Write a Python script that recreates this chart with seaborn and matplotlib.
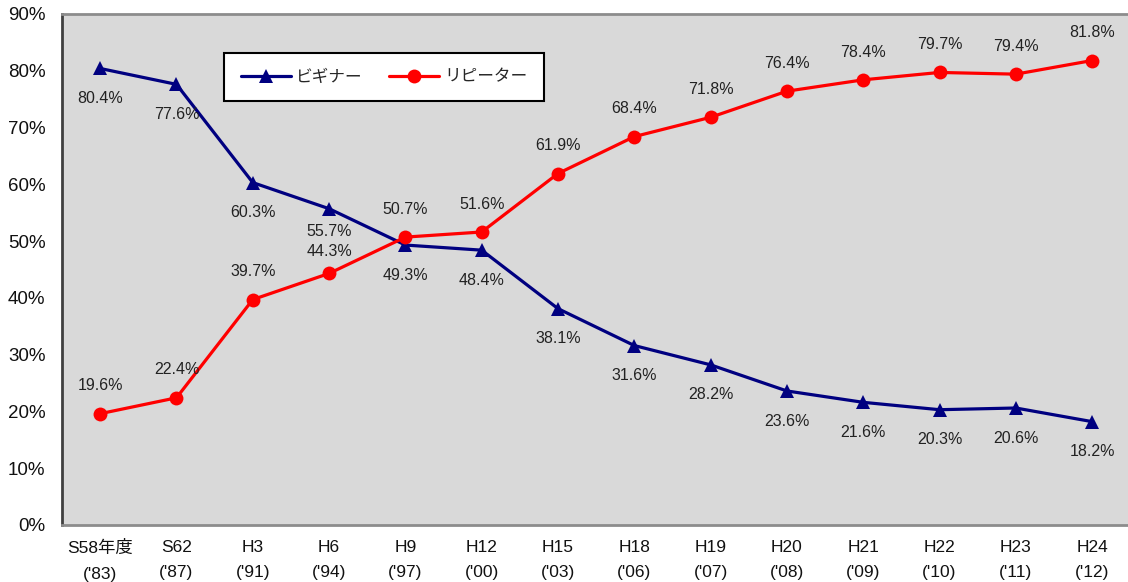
import matplotlib
matplotlib.use("Agg")
import matplotlib.pyplot as plt
import seaborn as sns
import pandas as pd
from matplotlib.ticker import FuncFormatter

# Survey years (Japanese era label + western year)
categories = ["S58年度\n('83)", "S62\n('87)", "H3\n('91)", "H6\n('94)", "H9\n('97)",
              "H12\n('00)", "H15\n('03)", "H18\n('06)", "H19\n('07)", "H20\n('08)",
              "H21\n('09)", "H22\n('10)", "H23\n('11)", "H24\n('12)"]
beginner = [80.4, 77.6, 60.3, 55.7, 49.3, 48.4, 38.1, 31.6, 28.2, 23.6, 21.6, 20.3, 20.6, 18.2]
repeater = [19.6, 22.4, 39.7, 44.3, 50.7, 51.6, 61.9, 68.4, 71.8, 76.4, 78.4, 79.7, 79.4, 81.8]
series_names = ["ビギナー", "リピーター"]
y_ticks = [0, 10, 20, 30, 40, 50, 60, 70, 80, 90]

sns.set_theme(style="white")
plt.rcParams["font.family"] = ["Liberation Sans", "Noto Sans CJK JP", "DejaVu Sans"]

df = pd.DataFrame({
    "idx": list(range(len(categories))) * 2,
    "value": beginner + repeater,
    "series": [series_names[0]] * len(categories) + [series_names[1]] * len(categories),
})

fig = plt.figure(figsize=(11.28, 5.82), dpi=100)
ax = fig.add_axes([0.055, 0.098, 0.947, 0.878])
ax.set_facecolor("#d9d9d9")

palette = {series_names[0]: "#000080", series_names[1]: "#ff0000"}
markers = {series_names[0]: "^", series_names[1]: "o"}
sns.lineplot(data=df, x="idx", y="value", hue="series", style="series",
             palette=palette, markers=markers, dashes=False, linewidth=2.3,
             markersize=10, markeredgewidth=0, ax=ax)

ax.set_xlim(-0.5, len(categories) - 0.5)
ax.set_ylim(0, 90)
ax.set_yticks(y_ticks)
ax.yaxis.set_major_formatter(FuncFormatter(lambda v, p: f"{int(v)}%"))
ax.set_xticks(range(len(categories)))
ax.set_xticklabels(categories, fontsize=12.5, linespacing=1.85)
ax.tick_params(axis="y", labelsize=13.5, length=0, pad=12, labelcolor="#111111")
ax.tick_params(axis="x", length=0, pad=11, labelcolor="#111111")
ax.set_xlabel("")
ax.set_ylabel("")

# minor ticks between categories on the bottom axis
ax.set_xticks([i + 0.5 for i in range(len(categories) - 1)], minor=True)
ax.tick_params(axis="x", which="minor", length=4, color="#909090", width=1.2)

for side in ["top", "bottom"]:
    ax.spines[side].set_color("#8c8c8c")
    ax.spines[side].set_linewidth(2)
ax.spines["left"].set_color("#404040")
ax.spines["left"].set_linewidth(2)
ax.spines["right"].set_visible(False)

# value labels
lab_kw = dict(ha="center", va="center", fontsize=11.5, color="#222222")
for i, (b, r) in enumerate(zip(beginner, repeater)):
    if i == 3:
        ax.text(i, b - 4.0, f"{b}%", **lab_kw)
        ax.text(i, r + 3.9, f"{r}%", **lab_kw)
    else:
        ax.text(i, b - 5.3, f"{b}%", **lab_kw)
        ax.text(i, r + 4.9, f"{r}%", **lab_kw)

leg = ax.legend(loc="upper left", bbox_to_anchor=(0.152, 0.924), borderaxespad=0,
                ncol=2, frameon=True, fancybox=False, fontsize=12, handlelength=3.0,
                columnspacing=1.6, borderpad=1.0, handletextpad=0.3)
leg.get_frame().set_edgecolor("#000000")
leg.get_frame().set_linewidth(1.5)
leg.get_frame().set_facecolor("white")
leg.get_frame().set_alpha(1)

fig.savefig("out.png", dpi=100)
